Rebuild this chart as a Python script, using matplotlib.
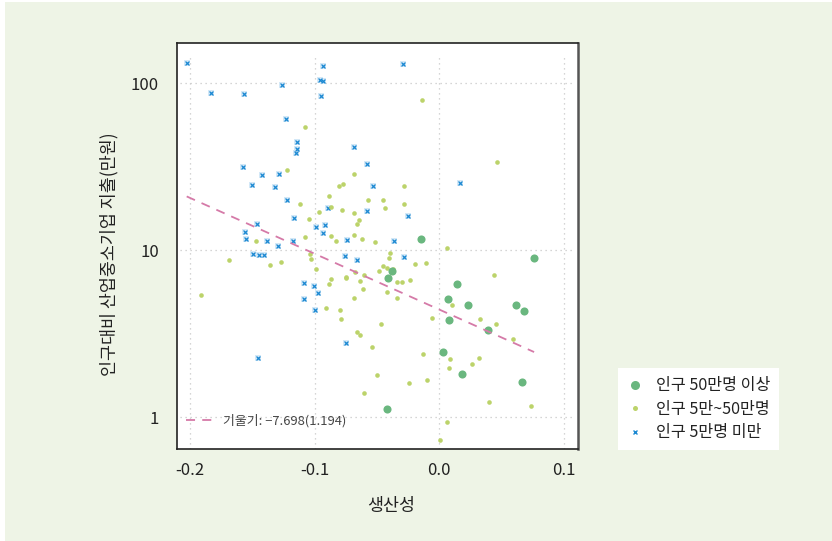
import matplotlib
matplotlib.use('Agg')
import matplotlib.pyplot as plt
import matplotlib.patches as mpatches
from matplotlib.lines import Line2D
import numpy as np

plt.rcParams['font.family'] = ['Noto Sans CJK KR', 'DejaVu Sans']
plt.rcParams['axes.unicode_minus'] = False

# ── 인구 50만명 이상 ────────────────────────────────────────────────
big_x = [-0.0147, -0.0379, -0.0411, 0.0760, 0.0144, 0.0072, 0.0228, 0.0080,
         0.0613, 0.0682, 0.0388, 0.0032, 0.0184, 0.0663, -0.0417]
big_y = [11.6, 7.52, 6.83, 9.03, 6.31, 5.11, 4.69, 3.84,
         4.70, 4.33, 3.32, 2.45, 1.81, 1.63, 1.12]

# ── 인구 5만~50만명 ─────────────────────────────────────────────────
mid_x = [-0.1075, -0.1222, -0.0684, -0.0802, -0.0775, -0.0882, -0.1115, -0.0866,
         -0.0967, -0.0780, -0.0682, -0.0570, -0.1043, -0.0642, -0.0658, -0.1473,
         -0.1077, -0.0869, -0.0831, -0.0684, -0.0620, -0.0516, -0.0139, 0.0460,
         -0.0281, -0.0454, -0.0436, -0.0283, 0.0059, -0.1689, -0.1914, -0.1360,
         -0.1270, -0.1035, -0.1029, -0.0989, -0.0869, -0.0887, -0.0751, -0.0746,
         -0.0676, -0.0602, -0.0638, -0.0614, -0.0684, -0.0906, -0.0797, -0.0786,
         -0.0663, -0.0638, -0.0542, -0.0502, -0.0604, -0.0481, -0.0470, -0.0395,
         -0.0401, -0.0454, -0.0417, -0.0369, -0.0197, -0.0104, -0.0339, -0.0302,
         -0.0235, -0.0422, -0.0337, -0.0131, -0.0245, -0.0101, -0.0061, 0.0439,
         0.0099, 0.0329, 0.0452, 0.0589, 0.0086, 0.0078, 0.0262, 0.0318,
         0.0399, 0.0738, 0.0062, 0.0006]
mid_y = [54.5, 30.3, 28.6, 24.4, 24.9, 21.2, 18.9, 18.2,
         16.9, 17.3, 16.7, 20.1, 15.4, 15.2, 14.4, 11.4,
         12.0, 12.2, 11.3, 12.3, 11.7, 11.2, 79.1, 33.8,
         24.3, 20.1, 17.9, 19.0, 10.3, 8.78, 5.42, 8.13,
         8.55, 9.50, 8.91, 7.76, 6.76, 6.31, 6.80, 6.95,
         7.44, 7.14, 6.58, 5.87, 5.20, 4.51, 4.41, 3.88,
         3.23, 3.12, 2.64, 1.78, 1.40, 7.55, 3.61, 9.60,
         8.99, 8.09, 7.83, 7.73, 8.28, 8.43, 6.46, 6.46,
         6.61, 5.63, 5.16, 2.40, 1.61, 1.67, 3.91, 7.11,
         4.72, 3.88, 3.64, 2.96, 2.23, 1.97, 2.09, 2.26,
         1.24, 1.17, 0.937, 0.731]

# ── 인구 5만명 미만 ─────────────────────────────────────────────────
small_x = [-0.2026, -0.1829, -0.1569, -0.1259, -0.0933, -0.0957, -0.0935, -0.0951,
           -0.1232, -0.1144, -0.1144, -0.1152, -0.0682, -0.1577, -0.1425, -0.1286,
           -0.1502, -0.1315, -0.0580, -0.0534, -0.1224, -0.0895, -0.0582, -0.1168,
           -0.1460, -0.0914, -0.0987, -0.1561, -0.1548, -0.1384, -0.0933, -0.1173,
           -0.0740, -0.1296, -0.0294, 0.0164, -0.0253, -0.0361, -0.1494, -0.1446,
           -0.1406, -0.0756, -0.0660, -0.1085, -0.1003, -0.0973, -0.1085, -0.0995,
           -0.0751, -0.1454, -0.0281]
small_y = [133, 87.0, 86.5, 97.7, 126.4, 104.2, 103.7, 83.6,
           61.4, 44.5, 40.4, 38.4, 41.6, 31.7, 28.2, 28.6,
           24.6, 24.0, 33.0, 24.4, 20.0, 18.0, 17.2, 15.7,
           14.4, 14.2, 13.7, 12.9, 11.7, 11.4, 12.6, 11.4,
           11.5, 10.6, 131.1, 25.1, 16.0, 11.4, 9.54, 9.41,
           9.41, 9.25, 8.71, 6.35, 6.11, 5.53, 5.11, 4.39,
           2.77, 2.27, 9.15]

# 회귀선: ln(지출) = a + b·생산성
slope = -7.698
slope_se = 1.194
intercept = 1.485

BIG_C = '#6ab77f'
MID_C = '#bcd36a'
SMALL_C = '#1a88d2'
LINE_C = '#d57aa8'
BG = '#eef4e6'

fig = plt.figure(figsize=(8.32, 5.41), dpi=100, facecolor='white')
fig.patches.append(mpatches.Rectangle((5 / 832, 0), 1, 1 - 2 / 541,
                                      transform=fig.transFigure,
                                      facecolor=BG, edgecolor='none', zorder=-10))
ax = fig.add_axes([0.2127, 0.170, 0.482, 0.7505])
ax.set_facecolor('white')

ax.set_yscale('log')
ax.set_xlim(-0.2104, 0.1112)
ax.set_ylim(0.646, 174)

# 점선 격자
for gx in [-0.2, -0.1, 0.0, 0.1]:
    ax.axvline(gx, ymin=0, ymax=0.972, color='#c8c8c8', lw=0.9,
               linestyle=(0, (1, 3)), zorder=0)
for gy in [1, 10, 100]:
    ax.axhline(gy, xmin=0.008, xmax=0.985, color='#c8c8c8', lw=0.9,
               linestyle=(0, (1, 3)), zorder=0)

ax.scatter(small_x, small_y, marker='s', s=13, color='#d3e8f7',
           linewidths=0, zorder=2)
ax.scatter(small_x, small_y, marker='x', s=8, color=SMALL_C,
           linewidths=0.9, zorder=3)
ax.scatter(mid_x, mid_y, marker='o', s=11, color=MID_C, linewidths=0, zorder=3)
ax.scatter(big_x, big_y, marker='o', s=34, color=BIG_C, linewidths=0, zorder=4)

all_x = big_x + mid_x + small_x
xs = np.linspace(min(all_x), max(all_x), 50)
line, = ax.plot(xs, np.exp(intercept + slope * xs), color=LINE_C, lw=1.3,
                linestyle=(0, (5, 4)), zorder=5)

ax.legend([line], [f'기울기: \u2212{abs(slope):.3f}({slope_se:.3f})'],
          loc='lower left', bbox_to_anchor=(0.0, 0.03), frameon=False,
          fontsize=9.3, handlelength=2.0, handletextpad=0.9,
          labelcolor='#444444', borderaxespad=0.3)

ax.set_xticks([-0.2, -0.1, 0.0, 0.1])
ax.set_xticklabels(['-0.2', '-0.1', '0.0', '0.1'])
ax.set_yticks([1, 10, 100])
ax.set_yticklabels(['1', '10', '100'])
ax.yaxis.set_minor_locator(matplotlib.ticker.NullLocator())
ax.tick_params(axis='both', length=0, labelsize=12, colors='#222222')
ax.tick_params(axis='x', pad=9)
ax.tick_params(axis='y', pad=13)

for side in ['left', 'bottom', 'top']:
    ax.spines[side].set_color('#222222')
    ax.spines[side].set_linewidth(1.2)
ax.spines['right'].set_color('#555555')
ax.spines['right'].set_linewidth(1.8)

ax.set_xlabel('생산성', fontsize=12.5, color='#222222')
ax.xaxis.set_label_coords(0.534, -0.118)
ax.set_ylabel('인구대비 산업중소기업 지출(만원)', fontsize=12.5, color='#222222')
ax.yaxis.set_label_coords(-0.147, 0.48)

handles = [
    Line2D([], [], marker='o', linestyle='none', color=BIG_C, markersize=6.5,
           markeredgewidth=0),
    Line2D([], [], marker='o', linestyle='none', color=MID_C, markersize=3.6,
           markeredgewidth=0),
    Line2D([], [], marker='x', linestyle='none', color=SMALL_C, markersize=3,
           markeredgewidth=1.0),
]
labels = ['인구 50만명 이상', '인구 5만~50만명', '인구 5만명 미만']
leg = fig.legend(handles, labels, loc='lower left',
                 bbox_to_anchor=(618 / 832, 1 - 450 / 541),
                 frameon=True, fancybox=False, facecolor='white',
                 edgecolor='none', framealpha=1, fontsize=11.6,
                 handlelength=1.0, handletextpad=0.8, labelspacing=0.4,
                 borderpad=0.55, borderaxespad=0, labelcolor='#222222')

fig.savefig('out.png', dpi=100, facecolor=fig.get_facecolor())
